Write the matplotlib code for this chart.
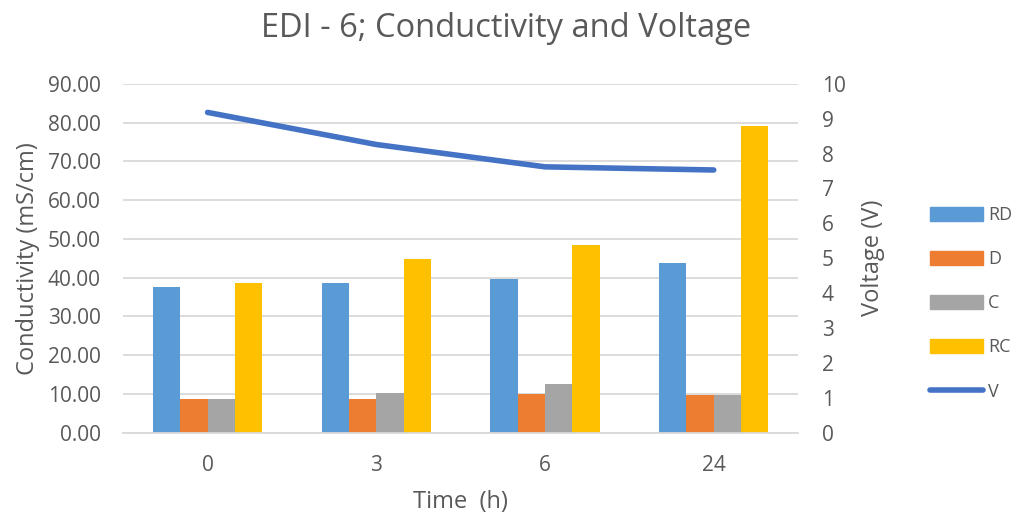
import matplotlib.pyplot as plt
from matplotlib.lines import Line2D
from matplotlib.patches import Patch
import numpy as np

plt.rcParams['font.family'] = ['Open Sans', 'DejaVu Sans']

times = ['0', '3', '6', '24']
rd = [37.6, 38.5, 39.6, 43.9]
d = [8.8, 8.8, 10.1, 9.8]
c = [8.8, 10.3, 12.5, 9.8]
rc = [38.7, 44.9, 48.4, 79.1]
volt = [9.18, 8.26, 7.62, 7.53]

grey = '#595959'
colors = ['#5b9bd5', '#ed7d31', '#a5a5a5', '#ffc000']
line_col = '#4472c4'

fig = plt.figure(figsize=(10.18, 5.14), dpi=100)
ax = fig.add_axes([0.121, 0.158, 0.663, 0.679])
x = np.arange(len(times))
w = 0.162
for i, (vals, col) in enumerate(zip([rd, d, c, rc], colors)):
    ax.bar(x + (i - 1.5) * w, vals, w, color=col, zorder=2)

ax.set_ylim(0, 90)
ax.set_yticks(np.arange(0, 91, 10))
ax.set_yticklabels([f'{v:.2f}' for v in np.arange(0, 91, 10)])
ax.set_xlim(-0.5, 3.5)
ax.set_xticks(x)
ax.set_xticklabels(times)
ax.grid(axis='y', color='#d9d9d9', linewidth=1.3, zorder=0)
for s in ['top', 'right', 'left']:
    ax.spines[s].set_visible(False)
ax.spines['bottom'].set_color('#d9d9d9')
ax.spines['bottom'].set_linewidth(1.3)
ax.tick_params(axis='y', length=0, labelsize=15, colors=grey, pad=16)
ax.tick_params(axis='x', length=0, labelsize=15, colors=grey, pad=16)
ax.set_ylabel('Conductivity (mS/cm)', fontsize=17, color=grey, labelpad=6)
ax.set_xlabel('Time  (h)', fontsize=17, color=grey, labelpad=10)

ax2 = ax.twinx()
ax2.plot(x, volt, color=line_col, linewidth=4, solid_capstyle='round', zorder=3)
ax2.set_ylim(0, 10)
ax2.set_yticks(range(0, 11))
for s in ['top', 'right', 'left', 'bottom']:
    ax2.spines[s].set_visible(False)
ax2.tick_params(length=0, labelsize=15, colors=grey, pad=17)
ax2.set_ylabel('Voltage (V)', fontsize=17, color=grey, labelpad=11)

fig.suptitle('EDI - 6; Conductivity and Voltage', fontsize=23.5, color=grey, x=0.497, y=0.976)

handles = [Patch(color=col) for col in colors] + [Line2D([], [], color=line_col, linewidth=4, solid_capstyle='round')]
fig.legend(handles, ['RD', 'D', 'C', 'RC', 'V'], loc='center left', bbox_to_anchor=(0.914, 0.41),
           frameon=False, fontsize=13, labelcolor=grey, labelspacing=1.45,
           handlelength=2.9, handleheight=0.8, handletextpad=0.3, borderpad=0, borderaxespad=0)

fig.savefig('out.png', dpi=100)
